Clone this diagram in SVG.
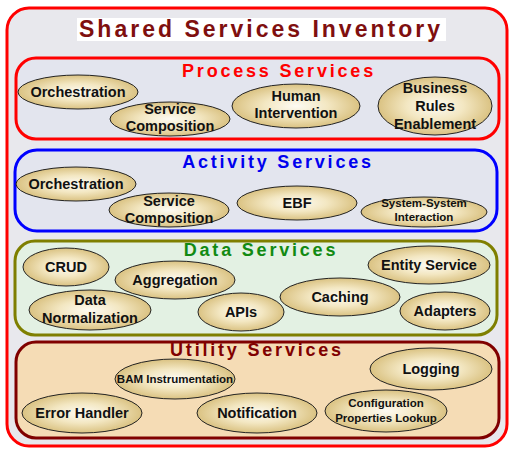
<svg xmlns="http://www.w3.org/2000/svg" width="514" height="455" viewBox="0 0 514 455">
<defs>
<radialGradient id="eg" cx="50%" cy="50%" r="50%">
<stop offset="0" stop-color="#fdfbf3"/>
<stop offset="0.5" stop-color="#f3e7c2"/>
<stop offset="1" stop-color="#dac282"/>
</radialGradient>
<style>
.ell{fill:url(#eg);stroke:#222;stroke-width:1}
.lbl{font-family:"Liberation Sans",Arial,sans-serif;font-weight:bold;font-size:14.5px;fill:#111;text-anchor:middle}
.sm{font-size:11.5px}
.xs{font-size:11.5px}
.grp{font-family:"Liberation Sans",Arial,sans-serif;font-weight:bold;font-size:18px;letter-spacing:2.8px;text-anchor:middle}
</style>
</defs>
<rect width="514" height="455" fill="#ffffff"/>
<g id="inventory">
<rect x="7" y="8" width="500" height="438" rx="22" fill="#e8e8ed" stroke="#ff0000" stroke-width="3"/>
<rect x="77" y="18" width="369" height="23" fill="#ffffff"/>
<text x="261" y="37" font-family="Liberation Sans,Arial,sans-serif" font-weight="bold" font-size="23" letter-spacing="3" fill="#7f0f0f" text-anchor="middle">Shared Services Inventory</text>
</g>
<g id="process-services">
<rect x="16" y="58" width="483" height="81" rx="20" fill="#e3e5ee" stroke="#ff0000" stroke-width="3"/>
<text class="grp" x="279" y="77" fill="#ff0000">Process Services</text>
</g>
<g id="activity-services">
<rect x="15" y="150" width="482" height="81" rx="22" fill="#e3e5ee" stroke="#0000ff" stroke-width="3"/>
<text class="grp" x="278" y="168" fill="#0000ee">Activity Services</text>
</g>
<g id="data-services">
<rect x="15" y="241" width="482" height="94" rx="20" fill="#e3f1e3" stroke="#7f7f00" stroke-width="3"/>
<text class="grp" x="261" y="256" fill="#128a12">Data Services</text>
</g>
<g id="utility-services">
<rect x="16" y="342" width="483" height="96" rx="20" fill="#f5dcb5" stroke="#800000" stroke-width="3"/>
<text class="grp" x="257" y="356" fill="#800000">Utility Services</text>
</g>
<g id="p-orchestration"><ellipse class="ell" cx="78" cy="92" rx="60" ry="17"/><text class="lbl" x="78" y="97">Orchestration</text></g>
<g id="p-service-composition"><ellipse class="ell" cx="170" cy="119" rx="60" ry="17"/><text class="lbl" x="170" y="114">Service</text><text class="lbl" x="170" y="131">Composition</text></g>
<g id="p-human-intervention"><ellipse class="ell" cx="296" cy="106" rx="64" ry="22"/><text class="lbl" x="296" y="101">Human</text><text class="lbl" x="296" y="118">Intervention</text></g>
<g id="p-business-rules"><ellipse class="ell" cx="435" cy="106" rx="57" ry="29"/><text class="lbl" x="435" y="93">Business</text><text class="lbl" x="435" y="111">Rules</text><text class="lbl" x="435" y="129">Enablement</text></g>
<g id="a-orchestration"><ellipse class="ell" cx="76" cy="184" rx="60" ry="17"/><text class="lbl" x="76" y="189">Orchestration</text></g>
<g id="a-service-composition"><ellipse class="ell" cx="169" cy="210" rx="60" ry="17"/><text class="lbl" x="169" y="206">Service</text><text class="lbl" x="169" y="223">Composition</text></g>
<g id="a-ebf"><ellipse class="ell" cx="297" cy="203" rx="60" ry="17"/><text class="lbl" x="297" y="208">EBF</text></g>
<g id="a-system-interaction"><ellipse class="ell" cx="424" cy="212" rx="63" ry="15"/><text class="lbl sm" x="424" y="207">System-System</text><text class="lbl sm" x="424" y="221">Interaction</text></g>
<g id="d-crud"><ellipse class="ell" cx="66" cy="267" rx="43" ry="19"/><text class="lbl" x="66" y="272">CRUD</text></g>
<g id="d-aggregation"><ellipse class="ell" cx="175" cy="280" rx="60" ry="19"/><text class="lbl" x="175" y="285">Aggregation</text></g>
<g id="d-entity-service"><ellipse class="ell" cx="429" cy="265" rx="61" ry="19"/><text class="lbl" x="429" y="270">Entity Service</text></g>
<g id="d-data-normalization"><ellipse class="ell" cx="90" cy="310" rx="61" ry="20"/><text class="lbl" x="90" y="305">Data</text><text class="lbl" x="90" y="323">Normalization</text></g>
<g id="d-apis"><ellipse class="ell" cx="241" cy="312" rx="43" ry="19"/><text class="lbl" x="241" y="317">APIs</text></g>
<g id="d-caching"><ellipse class="ell" cx="340" cy="297" rx="60" ry="19"/><text class="lbl" x="340" y="302">Caching</text></g>
<g id="d-adapters"><ellipse class="ell" cx="445" cy="311" rx="45" ry="19"/><text class="lbl" x="445" y="316">Adapters</text></g>
<g id="u-bam"><ellipse class="ell" cx="175" cy="379" rx="60" ry="20"/><text class="lbl xs" x="175" y="383">BAM Instrumentation</text></g>
<g id="u-logging"><ellipse class="ell" cx="431" cy="369" rx="61" ry="21"/><text class="lbl" x="431" y="374">Logging</text></g>
<g id="u-error-handler"><ellipse class="ell" cx="82" cy="413" rx="60" ry="20"/><text class="lbl" x="82" y="418">Error Handler</text></g>
<g id="u-notification"><ellipse class="ell" cx="257" cy="413" rx="60" ry="20"/><text class="lbl" x="257" y="418">Notification</text></g>
<g id="u-config"><ellipse class="ell" cx="386" cy="411" rx="61" ry="21"/><text class="lbl sm" x="386" y="407">Configuration</text><text class="lbl sm" x="386" y="422">Properties Lookup</text></g>
<g id="connectors"/>
</svg>
